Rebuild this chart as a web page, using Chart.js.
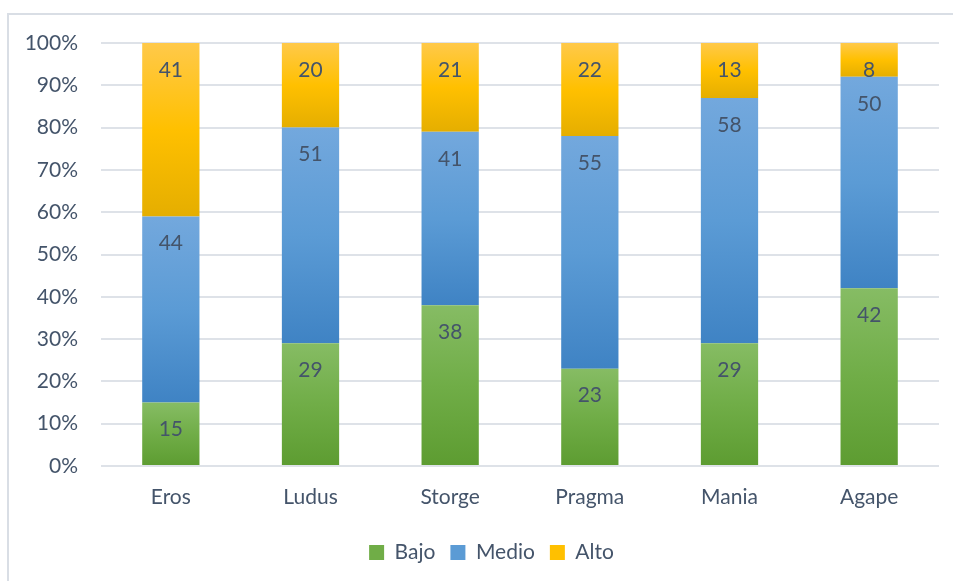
<!DOCTYPE html>
<html>
<head>
<meta charset="utf-8">
<script src="https://cdn.jsdelivr.net/npm/chart.js@4/dist/chart.umd.min.js"></script>
<style>
html,body{margin:0;padding:0;background:#fff;}
#wrap{position:relative;width:953px;height:581px;}
</style>
</head>
<body>
<div id="wrap"><canvas id="c" width="953" height="581"></canvas></div>
<script>
const categories = ["Eros", "Ludus", "Storge", "Pragma", "Mania", "Agape"];
const bajo  = [15, 29, 38, 23, 29, 42];
const medio = [44, 51, 41, 55, 58, 50];
const alto  = [41, 20, 21, 22, 13, 8];
const seriesNames = ["Bajo", "Medio", "Alto"];
const yTicks = [0, 10, 20, 30, 40, 50, 60, 70, 80, 90, 100];

const allSeries = [bajo, medio, alto];
const palettes = [
  ["#86BC64", "#70AD47", "#5D9C31"],
  ["#73A8DD", "#5B9BD5", "#3F83C4"],
  ["#FFC94A", "#FFC000", "#E5AE00"]
];
const TEXT = "#44546A";
const FONT = "Lato";
const FS = 21;

function gradFor(ctx) {
  const chart = ctx.chart;
  const ds = ctx.datasetIndex, i = ctx.dataIndex;
  const pal = palettes[ds];
  if (!chart.chartArea || !chart.scales.y) return pal[1];
  let base = 0;
  for (let k = 0; k < ds; k++) base += allSeries[k][i];
  const top = base + allSeries[ds][i];
  const y = chart.scales.y;
  const y0 = y.getPixelForValue(top), y1 = y.getPixelForValue(base);
  if (!isFinite(y0) || !isFinite(y1) || y0 === y1) return pal[1];
  const g = chart.ctx.createLinearGradient(0, y0, 0, y1);
  g.addColorStop(0, pal[0]);
  g.addColorStop(0.5, pal[1]);
  g.addColorStop(1, pal[2]);
  return g;
}

const frame = {
  id: "frame",
  afterLayout(chart) {
    if (chart.legend) {
      chart.legend.left += 22;
      chart.legend.right += 22;
    }
  },
  beforeDraw(chart) {
    const c = chart.ctx;
    c.save();
    c.strokeStyle = "#D9DEE5";
    c.lineWidth = 2;
    c.beginPath();
    c.moveTo(8, 581);
    c.lineTo(8, 14);
    c.lineTo(953, 14);
    c.stroke();
    c.restore();
  }
};

const labelsPlugin = {
  id: "segLabels",
  afterDatasetsDraw(chart) {
    const c = chart.ctx;
    c.save();
    c.font = FS + "px " + FONT;
    c.fillStyle = TEXT;
    c.textAlign = "center";
    c.textBaseline = "middle";
    chart.data.datasets.forEach((ds, di) => {
      const meta = chart.getDatasetMeta(di);
      meta.data.forEach((el, i) => {
        c.fillText(String(ds.data[i]), el.x, el.y + 27);
      });
    });
    c.restore();
  }
};

new Chart(document.getElementById("c"), {
  type: "bar",
  data: {
    labels: categories,
    datasets: allSeries.map((arr, k) => ({
      label: seriesNames[k],
      data: arr,
      backgroundColor: gradFor,
      borderWidth: 0,
      barPercentage: 0.41,
      categoryPercentage: 1.0
    }))
  },
  options: {
    responsive: false,
    animation: false,
    devicePixelRatio: 1,
    layout: { padding: { left: 0, right: 14, top: 43, bottom: 8 } },
    scales: {
      x: {
        stacked: true,
        grid: { display: false, drawTicks: false },
        border: { display: false },
        ticks: { color: TEXT, font: { family: FONT, size: FS }, padding: 19 },
        afterFit(s) { s.height = 61; }
      },
      y: {
        stacked: true,
        min: 0, max: 100,
        afterBuildTicks(s) { s.ticks = yTicks.map(v => ({ value: v })); },
        grid: { color: "#DEE2E8", lineWidth: 2, drawTicks: false },
        border: { display: false },
        ticks: {
          color: TEXT, font: { family: FONT, size: FS }, padding: 23,
          callback: v => v + "%"
        },
        afterFit(s) { s.width = 101; }
      }
    },
    plugins: {
      legend: {
        position: "bottom",
        labels: {
          color: TEXT,
          font: { family: FONT, size: FS },
          boxWidth: 15, boxHeight: 15,
          padding: 15,
          generateLabels(chart) {
            return seriesNames.map((n, k) => ({
              text: n, fillStyle: palettes[k][1], strokeStyle: palettes[k][1],
              lineWidth: 0, datasetIndex: k, fontColor: TEXT
            }));
          }
        }
      },
      tooltip: { enabled: false }
    }
  },
  plugins: [frame, labelsPlugin]
});
</script>
</body>
</html>
